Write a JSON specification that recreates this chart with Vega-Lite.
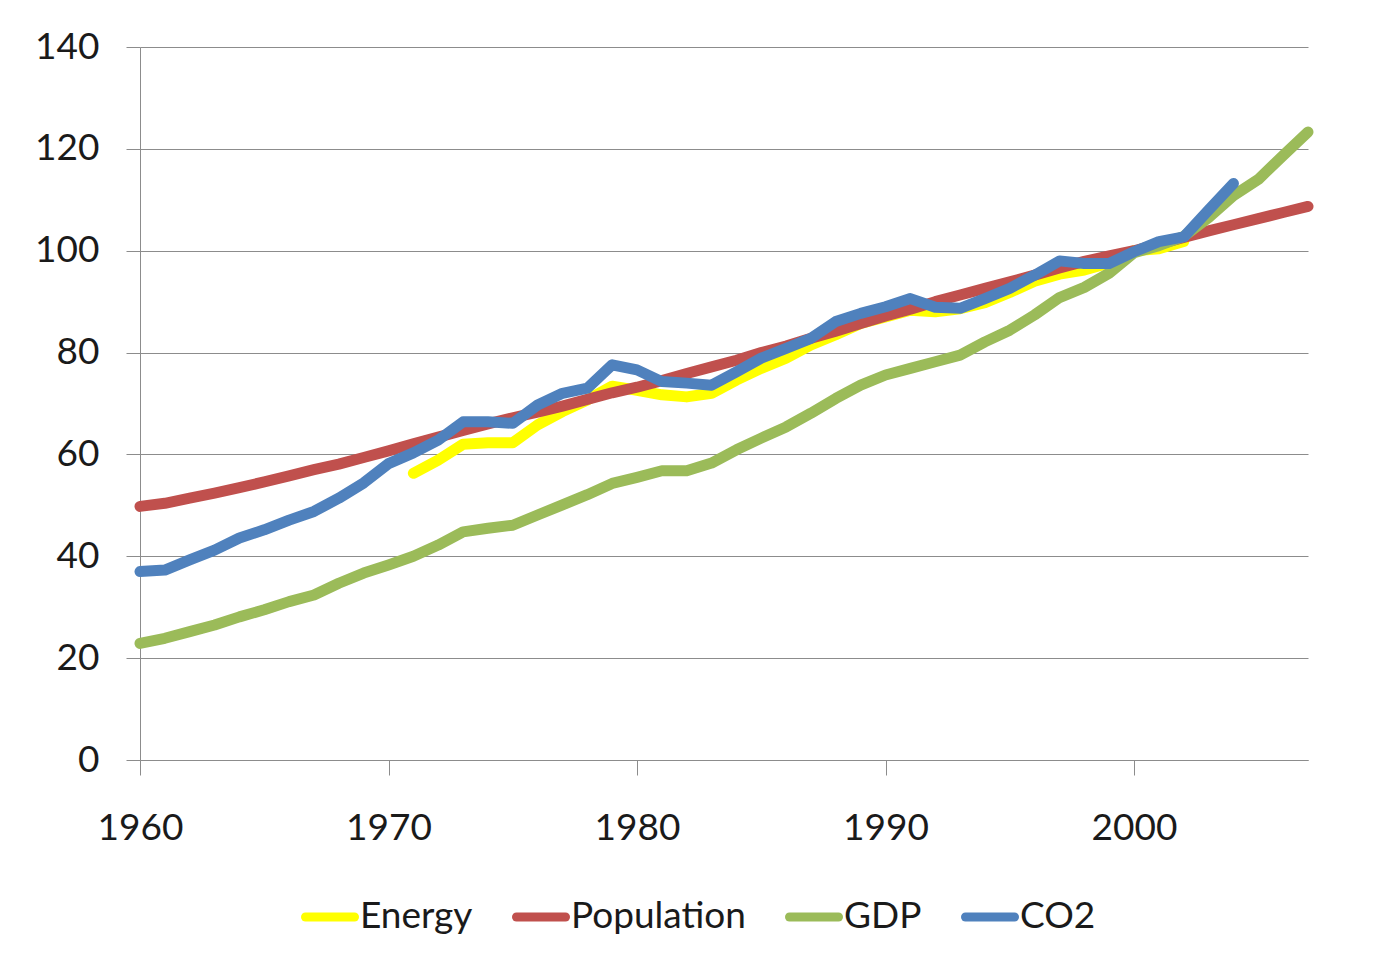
{
  "$schema": "https://vega.github.io/schema/vega-lite/v6.json",
  "width": 1168,
  "height": 713,
  "autosize": "none",
  "padding": {"left": 140, "top": 47, "right": 81, "bottom": 200},
  "background": "#ffffff",
  "config": {
    "view": {"stroke": null},
    "font": "Lato",
    "axis": {
      "labelFont": "Lato",
      "labelFontSize": 37,
      "labelColor": "#1a1a1a",
      "domainColor": "#8c8c8c",
      "tickColor": "#8c8c8c",
      "gridColor": "#8c8c8c",
      "domainWidth": 1,
      "tickWidth": 1,
      "gridWidth": 1,
      "title": null
    },
    "legend": {
      "labelFont": "Lato",
      "labelFontSize": 37,
      "labelColor": "#1a1a1a",
      "labelLimit": 0
    }
  },
  "data": {
    "values": [
      {"year": 1971, "series": "Energy", "value": 56.3},
      {"year": 1972, "series": "Energy", "value": 58.9},
      {"year": 1973, "series": "Energy", "value": 62.0},
      {"year": 1974, "series": "Energy", "value": 62.3},
      {"year": 1975, "series": "Energy", "value": 62.3},
      {"year": 1976, "series": "Energy", "value": 65.8},
      {"year": 1977, "series": "Energy", "value": 68.4},
      {"year": 1978, "series": "Energy", "value": 70.7},
      {"year": 1979, "series": "Energy", "value": 73.4},
      {"year": 1980, "series": "Energy", "value": 72.6},
      {"year": 1981, "series": "Energy", "value": 71.7},
      {"year": 1982, "series": "Energy", "value": 71.3},
      {"year": 1983, "series": "Energy", "value": 72.0},
      {"year": 1984, "series": "Energy", "value": 74.6},
      {"year": 1985, "series": "Energy", "value": 76.9},
      {"year": 1986, "series": "Energy", "value": 78.9},
      {"year": 1987, "series": "Energy", "value": 81.5},
      {"year": 1988, "series": "Energy", "value": 83.5},
      {"year": 1989, "series": "Energy", "value": 85.7},
      {"year": 1990, "series": "Energy", "value": 87.0},
      {"year": 1991, "series": "Energy", "value": 88.3},
      {"year": 1992, "series": "Energy", "value": 88.0},
      {"year": 1993, "series": "Energy", "value": 88.6},
      {"year": 1994, "series": "Energy", "value": 89.8},
      {"year": 1995, "series": "Energy", "value": 91.8},
      {"year": 1996, "series": "Energy", "value": 94.0},
      {"year": 1997, "series": "Energy", "value": 95.4},
      {"year": 1998, "series": "Energy", "value": 96.2},
      {"year": 1999, "series": "Energy", "value": 97.6},
      {"year": 2000, "series": "Energy", "value": 100.0},
      {"year": 2001, "series": "Energy", "value": 100.4},
      {"year": 2002, "series": "Energy", "value": 101.8},

      {"year": 1960, "series": "Population", "value": 49.8},
      {"year": 1961, "series": "Population", "value": 50.4},
      {"year": 1962, "series": "Population", "value": 51.4},
      {"year": 1963, "series": "Population", "value": 52.4},
      {"year": 1964, "series": "Population", "value": 53.5},
      {"year": 1965, "series": "Population", "value": 54.6},
      {"year": 1966, "series": "Population", "value": 55.8},
      {"year": 1967, "series": "Population", "value": 57.0},
      {"year": 1968, "series": "Population", "value": 58.1},
      {"year": 1969, "series": "Population", "value": 59.4},
      {"year": 1970, "series": "Population", "value": 60.7},
      {"year": 1971, "series": "Population", "value": 62.1},
      {"year": 1972, "series": "Population", "value": 63.4},
      {"year": 1973, "series": "Population", "value": 64.7},
      {"year": 1974, "series": "Population", "value": 66.0},
      {"year": 1975, "series": "Population", "value": 67.2},
      {"year": 1976, "series": "Population", "value": 68.3},
      {"year": 1977, "series": "Population", "value": 69.5},
      {"year": 1978, "series": "Population", "value": 70.8},
      {"year": 1979, "series": "Population", "value": 72.1},
      {"year": 1980, "series": "Population", "value": 73.2},
      {"year": 1981, "series": "Population", "value": 74.5},
      {"year": 1982, "series": "Population", "value": 75.9},
      {"year": 1983, "series": "Population", "value": 77.2},
      {"year": 1984, "series": "Population", "value": 78.5},
      {"year": 1985, "series": "Population", "value": 80.0},
      {"year": 1986, "series": "Population", "value": 81.3},
      {"year": 1987, "series": "Population", "value": 82.8},
      {"year": 1988, "series": "Population", "value": 84.2},
      {"year": 1989, "series": "Population", "value": 85.7},
      {"year": 1990, "series": "Population", "value": 87.2},
      {"year": 1991, "series": "Population", "value": 88.5},
      {"year": 1992, "series": "Population", "value": 90.0},
      {"year": 1993, "series": "Population", "value": 91.3},
      {"year": 1994, "series": "Population", "value": 92.6},
      {"year": 1995, "series": "Population", "value": 93.9},
      {"year": 1996, "series": "Population", "value": 95.2},
      {"year": 1997, "series": "Population", "value": 96.6},
      {"year": 1998, "series": "Population", "value": 97.9},
      {"year": 1999, "series": "Population", "value": 99.0},
      {"year": 2000, "series": "Population", "value": 100.0},
      {"year": 2001, "series": "Population", "value": 101.3},
      {"year": 2002, "series": "Population", "value": 102.6},
      {"year": 2003, "series": "Population", "value": 103.9},
      {"year": 2004, "series": "Population", "value": 105.1},
      {"year": 2005, "series": "Population", "value": 106.3},
      {"year": 2006, "series": "Population", "value": 107.5},
      {"year": 2007, "series": "Population", "value": 108.7},

      {"year": 1960, "series": "GDP", "value": 22.9},
      {"year": 1961, "series": "GDP", "value": 23.9},
      {"year": 1962, "series": "GDP", "value": 25.2},
      {"year": 1963, "series": "GDP", "value": 26.5},
      {"year": 1964, "series": "GDP", "value": 28.1},
      {"year": 1965, "series": "GDP", "value": 29.5},
      {"year": 1966, "series": "GDP", "value": 31.1},
      {"year": 1967, "series": "GDP", "value": 32.4},
      {"year": 1968, "series": "GDP", "value": 34.7},
      {"year": 1969, "series": "GDP", "value": 36.7},
      {"year": 1970, "series": "GDP", "value": 38.3},
      {"year": 1971, "series": "GDP", "value": 40.0},
      {"year": 1972, "series": "GDP", "value": 42.2},
      {"year": 1973, "series": "GDP", "value": 44.8},
      {"year": 1974, "series": "GDP", "value": 45.5},
      {"year": 1975, "series": "GDP", "value": 46.1},
      {"year": 1976, "series": "GDP", "value": 48.1},
      {"year": 1977, "series": "GDP", "value": 50.1},
      {"year": 1978, "series": "GDP", "value": 52.1},
      {"year": 1979, "series": "GDP", "value": 54.3},
      {"year": 1980, "series": "GDP", "value": 55.5},
      {"year": 1981, "series": "GDP", "value": 56.8},
      {"year": 1982, "series": "GDP", "value": 56.8},
      {"year": 1983, "series": "GDP", "value": 58.3},
      {"year": 1984, "series": "GDP", "value": 60.9},
      {"year": 1985, "series": "GDP", "value": 63.2},
      {"year": 1986, "series": "GDP", "value": 65.4},
      {"year": 1987, "series": "GDP", "value": 68.1},
      {"year": 1988, "series": "GDP", "value": 71.0},
      {"year": 1989, "series": "GDP", "value": 73.6},
      {"year": 1990, "series": "GDP", "value": 75.6},
      {"year": 1991, "series": "GDP", "value": 76.9},
      {"year": 1992, "series": "GDP", "value": 78.2},
      {"year": 1993, "series": "GDP", "value": 79.5},
      {"year": 1994, "series": "GDP", "value": 82.1},
      {"year": 1995, "series": "GDP", "value": 84.4},
      {"year": 1996, "series": "GDP", "value": 87.4},
      {"year": 1997, "series": "GDP", "value": 90.8},
      {"year": 1998, "series": "GDP", "value": 92.8},
      {"year": 1999, "series": "GDP", "value": 95.6},
      {"year": 2000, "series": "GDP", "value": 99.6},
      {"year": 2001, "series": "GDP", "value": 101.0},
      {"year": 2002, "series": "GDP", "value": 102.8},
      {"year": 2003, "series": "GDP", "value": 106.5},
      {"year": 2004, "series": "GDP", "value": 110.8},
      {"year": 2005, "series": "GDP", "value": 114.0},
      {"year": 2006, "series": "GDP", "value": 118.7},
      {"year": 2007, "series": "GDP", "value": 123.3},

      {"year": 1960, "series": "CO2", "value": 37.0},
      {"year": 1961, "series": "CO2", "value": 37.3},
      {"year": 1962, "series": "CO2", "value": 39.3},
      {"year": 1963, "series": "CO2", "value": 41.2},
      {"year": 1964, "series": "CO2", "value": 43.6},
      {"year": 1965, "series": "CO2", "value": 45.2},
      {"year": 1966, "series": "CO2", "value": 47.1},
      {"year": 1967, "series": "CO2", "value": 48.8},
      {"year": 1968, "series": "CO2", "value": 51.4},
      {"year": 1969, "series": "CO2", "value": 54.4},
      {"year": 1970, "series": "CO2", "value": 58.2},
      {"year": 1971, "series": "CO2", "value": 60.3},
      {"year": 1972, "series": "CO2", "value": 62.8},
      {"year": 1973, "series": "CO2", "value": 66.4},
      {"year": 1974, "series": "CO2", "value": 66.4},
      {"year": 1975, "series": "CO2", "value": 66.1},
      {"year": 1976, "series": "CO2", "value": 69.7},
      {"year": 1977, "series": "CO2", "value": 72.0},
      {"year": 1978, "series": "CO2", "value": 73.0},
      {"year": 1979, "series": "CO2", "value": 77.6},
      {"year": 1980, "series": "CO2", "value": 76.6},
      {"year": 1981, "series": "CO2", "value": 74.3},
      {"year": 1982, "series": "CO2", "value": 74.0},
      {"year": 1983, "series": "CO2", "value": 73.6},
      {"year": 1984, "series": "CO2", "value": 76.2},
      {"year": 1985, "series": "CO2", "value": 78.9},
      {"year": 1986, "series": "CO2", "value": 80.8},
      {"year": 1987, "series": "CO2", "value": 82.8},
      {"year": 1988, "series": "CO2", "value": 86.1},
      {"year": 1989, "series": "CO2", "value": 87.7},
      {"year": 1990, "series": "CO2", "value": 89.0},
      {"year": 1991, "series": "CO2", "value": 90.6},
      {"year": 1992, "series": "CO2", "value": 88.9},
      {"year": 1993, "series": "CO2", "value": 88.7},
      {"year": 1994, "series": "CO2", "value": 90.6},
      {"year": 1995, "series": "CO2", "value": 92.6},
      {"year": 1996, "series": "CO2", "value": 95.2},
      {"year": 1997, "series": "CO2", "value": 98.0},
      {"year": 1998, "series": "CO2", "value": 97.5},
      {"year": 1999, "series": "CO2", "value": 97.5},
      {"year": 2000, "series": "CO2", "value": 99.8},
      {"year": 2001, "series": "CO2", "value": 101.8},
      {"year": 2002, "series": "CO2", "value": 102.7},
      {"year": 2003, "series": "CO2", "value": 108.0},
      {"year": 2004, "series": "CO2", "value": 113.2}
    ]
  },
  "encoding": {
    "x": {
      "field": "year",
      "type": "quantitative",
      "scale": {"domain": [1960, 2007], "nice": false, "zero": false},
      "axis": {
        "values": [1960, 1970, 1980, 1990, 2000],
        "format": "d",
        "grid": false,
        "tickSize": 15,
        "labelPadding": 35,
        "labelFlush": false
      }
    },
    "y": {
      "field": "value",
      "type": "quantitative",
      "scale": {"domain": [0, 140], "nice": false},
      "axis": {
        "values": [0, 20, 40, 60, 80, 100, 120, 140],
        "grid": true,
        "tickSize": 14,
        "labelPadding": 27
      }
    },
    "color": {
      "field": "series",
      "type": "nominal",
      "scale": {
        "domain": ["Energy", "Population", "GDP", "CO2"],
        "range": ["#ffff00", "#c0504d", "#9bbb59", "#4f81bd"]
      },
      "legend": {
        "title": null,
        "orient": "none",
        "direction": "horizontal",
        "legendX": 161,
        "legendY": 841,
        "padding": 0,
        "symbolType": "stroke",
        "symbolSize": 2401,
        "symbolStrokeWidth": 9,
        "labelOffset": 1,
        "columnPadding": 25,
        "labelFontSize": 37,
        "labelLimit": 0,
        "encode": {
          "symbols": {"update": {"strokeCap": {"value": "round"}}}
        }
      }
    }
  },
  "layer": [
    {
      "transform": [{"filter": "datum.series === 'Energy'"}],
      "mark": {"type": "line", "strokeWidth": 11, "strokeCap": "round", "strokeJoin": "round"}
    },
    {
      "transform": [{"filter": "datum.series === 'Population'"}],
      "mark": {"type": "line", "strokeWidth": 11, "strokeCap": "round", "strokeJoin": "round"}
    },
    {
      "transform": [{"filter": "datum.series === 'GDP'"}],
      "mark": {"type": "line", "strokeWidth": 11, "strokeCap": "round", "strokeJoin": "round"}
    },
    {
      "transform": [{"filter": "datum.series === 'CO2'"}],
      "mark": {"type": "line", "strokeWidth": 11, "strokeCap": "round", "strokeJoin": "round"}
    }
  ]
}
